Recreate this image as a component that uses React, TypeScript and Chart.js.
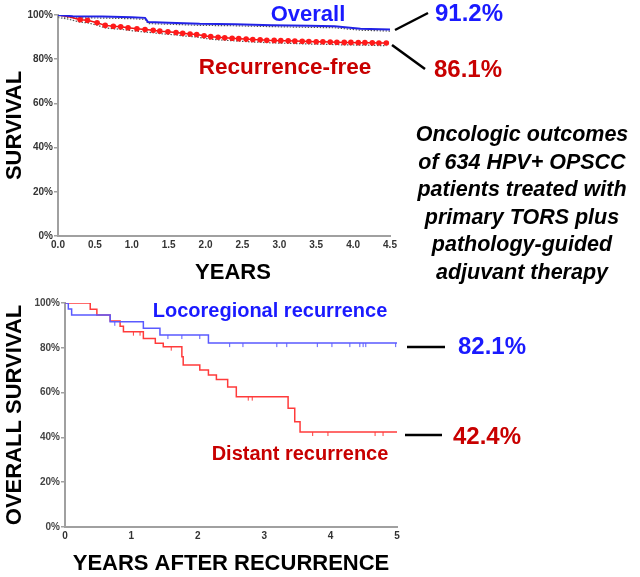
import React, { useEffect, useRef } from 'react';
import { Chart, registerables } from 'chart.js';
Chart.register(...registerables);

const FONT = 'Arial, "Liberation Sans", Helvetica, sans-serif';

// ---- Top chart data (years, survival %) ----
const topXTicks = [0, 0.5, 1, 1.5, 2, 2.5, 3, 3.5, 4, 4.5];
const overallYears = [0, 0.2, 0.6, 1.0, 1.18, 1.22, 1.5, 1.92, 2.4, 2.9, 3.4, 3.75, 4.1, 4.5];
const overallValues = [100, 99.4, 99.3, 99.0, 98.7, 96.8, 96.5, 96.0, 95.8, 95.4, 95.1, 94.9, 93.8, 93.4];
const rfYears = [0, 0.15, 0.30, 0.40, 0.53, 0.64, 0.75, 0.85, 0.95, 1.07, 1.18, 1.29, 1.38, 1.49, 1.60, 1.69, 1.79, 1.88, 1.98, 2.07, 2.17, 2.26, 2.36, 2.45, 2.55, 2.64, 2.74, 2.83, 2.93, 3.02, 3.12, 3.21, 3.31, 3.40, 3.50, 3.59, 3.69, 3.78, 3.88, 3.97, 4.07, 4.16, 4.26, 4.35, 4.45];
const rfValues = [100, 99.2, 97.9, 97.6, 96.5, 95.3, 94.9, 94.7, 94.2, 93.8, 93.4, 93.1, 92.7, 92.4, 92.1, 91.7, 91.4, 91.2, 90.6, 90.2, 89.9, 89.7, 89.5, 89.3, 89.1, 88.9, 88.8, 88.6, 88.5, 88.4, 88.3, 88.2, 88.1, 88.0, 87.9, 87.9, 87.8, 87.7, 87.6, 87.6, 87.5, 87.5, 87.4, 87.3, 87.3];

// ---- Bottom chart data ----
const locoYears = [0, 0.05, 0.1, 0.68, 1.18, 1.43, 2.16, 5.0];
const locoValues = [100, 97.3, 94.6, 91.6, 88.7, 85.7, 82.1, 82.1];
const distYears = [0, 0.38, 0.48, 0.68, 0.83, 0.88, 1.18, 1.36, 1.48, 1.76, 1.78, 2.03, 2.16, 2.28, 2.45, 2.58, 3.36, 3.46, 3.54, 5.0];
const distValues = [100, 97.2, 94.6, 92.0, 89.6, 87.2, 84.2, 82.0, 80.5, 76.0, 72.3, 70.1, 67.9, 65.9, 62.5, 58.2, 53.0, 47.0, 42.4, 42.4];
const locoCensorYears = [0.75, 1.55, 1.76, 2.03, 2.48, 2.68, 3.19, 3.34, 3.80, 4.02, 4.29, 4.44, 4.49, 4.53, 4.98];
const locoCensorValues = [91.6, 85.7, 85.7, 85.7, 82.1, 82.1, 82.1, 82.1, 82.1, 82.1, 82.1, 82.1, 82.1, 82.1, 82.1];
const distCensorYears = [1.03, 1.13, 1.6, 2.76, 2.82, 3.73, 3.96, 4.67, 4.79];
const distCensorValues = [87.2, 87.2, 80.5, 58.2, 58.2, 42.4, 42.4, 42.4, 42.4];

const pts = (xs: number[], ys: number[]) => xs.map((x, i) => ({ x, y: ys[i] }));

const shiftPlugin = {
  id: 'shiftPlugin',
  beforeDatasetDraw(chart: any, args: any) {
    const ds = chart.data.datasets[args.index];
    if (ds.yShift) { chart.ctx.save(); chart.ctx.translate(0, ds.yShift); }
  },
  afterDatasetDraw(chart: any, args: any) {
    const ds = chart.data.datasets[args.index];
    if (ds.yShift) chart.ctx.restore();
  },
};

const tickFont = { family: FONT, size: 10, weight: 'bold' as const };
const titleFont = { family: FONT, size: 22, weight: 'bold' as const };

const BLUE_TXT = '#1a1aff';
const RED_TXT = '#c80000';

const txt = (extra: any): React.CSSProperties => ({
  position: 'absolute', whiteSpace: 'nowrap', fontFamily: FONT, fontWeight: 'bold', lineHeight: 1, ...extra,
});

export default function App() {
  const topRef = useRef<HTMLCanvasElement>(null);
  const botRef = useRef<HTMLCanvasElement>(null);

  useEffect(() => {
    const top = new Chart(topRef.current!, {
      type: 'line',
      data: {
        datasets: [
          { data: pts(overallYears, overallValues), borderColor: '#2222e6', borderWidth: 2, pointRadius: 0, tension: 0 } as any,
          {
            data: pts(rfYears, rfValues), borderColor: '#ee1111', borderWidth: 1.5, backgroundColor: '#ff1a1a',
            pointRadius: (c: any) => (c.dataIndex < 2 ? 0 : 2.8), pointBorderWidth: 0, pointBackgroundColor: '#ff1a1a', tension: 0,
          } as any,
          { data: pts(overallYears, overallValues), borderColor: '#555', borderWidth: 1.2, borderDash: [1.5, 1.5], pointRadius: 0, yShift: 1.5 } as any,
          { data: pts(rfYears, rfValues), borderColor: '#555', borderWidth: 1.2, borderDash: [1.5, 1.5], pointRadius: 0, yShift: 2.5 } as any,
        ],
      },
      options: {
        responsive: false, animation: false, maintainAspectRatio: false,
        layout: { padding: { left: 0, top: 15, right: 30, bottom: 0 } },
        plugins: { legend: { display: false }, tooltip: { enabled: false } },
        scales: {
          x: {
            type: 'linear', min: 0, max: 4.5,
            afterBuildTicks: (s: any) => { s.ticks = topXTicks.map((v) => ({ value: v })); },
            ticks: { font: tickFont, color: '#333', padding: 3, callback: (v: any) => Number(v).toFixed(1), maxRotation: 0, autoSkip: false },
            grid: { display: false, drawTicks: false },
            border: { display: true, color: '#a0a0a0', width: 2 },
            afterFit: (s: any) => { s.height = 54; },
          },
          y: {
            min: 0, max: 100,
            ticks: { stepSize: 20, font: tickFont, color: '#333', padding: 1, callback: (v: any) => v + '%' },
            grid: { display: true, drawOnChartArea: false, drawTicks: true, tickLength: 4, color: '#a0a0a0', lineWidth: 1.5 },
            border: { display: true, color: '#a0a0a0', width: 2 },
            title: { display: true, text: 'SURVIVAL', font: titleFont, color: '#000', padding: { top: 2, bottom: 0 } },
            afterFit: (s: any) => { s.width = 58; },
          },
        },
      } as any,
      plugins: [shiftPlugin],
    });

    const bot = new Chart(botRef.current!, {
      type: 'line',
      data: {
        datasets: [
          { data: pts(locoYears, locoValues), stepped: true, borderColor: '#5a5aff', borderWidth: 1.5, pointRadius: 0 } as any,
          { data: pts(distYears, distValues), stepped: true, borderColor: '#ff3b3b', borderWidth: 1.5, pointRadius: 0 } as any,
          { data: pts(locoCensorYears, locoCensorValues), showLine: false, pointStyle: 'line', rotation: 90, pointRadius: 2, borderColor: '#5a5aff', borderWidth: 1, yShift: 2 } as any,
          { data: pts(distCensorYears, distCensorValues), showLine: false, pointStyle: 'line', rotation: 90, pointRadius: 2, borderColor: '#ff3b3b', borderWidth: 1, yShift: 2 } as any,
        ],
      },
      options: {
        responsive: false, animation: false, maintainAspectRatio: false,
        layout: { padding: { left: 0, top: 13, right: 23, bottom: 0 } },
        plugins: { legend: { display: false }, tooltip: { enabled: false } },
        scales: {
          x: {
            type: 'linear', min: 0, max: 5,
            ticks: { stepSize: 1, font: tickFont, color: '#333', padding: 3, maxRotation: 0 },
            grid: { display: false, drawTicks: false },
            border: { display: true, color: '#a0a0a0', width: 2 },
            title: { display: true, text: 'YEARS AFTER RECURRENCE', font: titleFont, color: '#000', padding: { top: 0, bottom: 0 } },
            afterFit: (s: any) => { s.height = 50; },
          },
          y: {
            min: 0, max: 100,
            ticks: { stepSize: 20, font: tickFont, color: '#444', padding: 1, callback: (v: any) => v + '%' },
            grid: { display: true, drawOnChartArea: false, drawTicks: true, tickLength: 4, color: '#a0a0a0', lineWidth: 1.5 },
            border: { display: true, color: '#a0a0a0', width: 2 },
            title: { display: true, text: 'OVERALL SURVIVAL', font: titleFont, color: '#000', padding: { top: 2, bottom: 0 } },
            afterFit: (s: any) => { s.width = 65; },
          },
        },
      } as any,
      plugins: [shiftPlugin],
    });

    return () => { top.destroy(); bot.destroy(); };
  }, []);

  return (
    <div style={{ position: 'fixed', left: 0, top: 0, width: 640, height: 577, background: '#fff', overflow: 'hidden' }}>
      <canvas ref={topRef} width={420} height={290} style={{ position: 'absolute', left: 0, top: 0, display: 'block' }} />
      <canvas ref={botRef} width={420} height={287} style={{ position: 'absolute', left: 0, top: 290, display: 'block' }} />
      <svg width={640} height={577} style={{ position: 'absolute', left: 0, top: 0, pointerEvents: 'none' }}>
        <line x1={395} y1={30} x2={428} y2={13} stroke="#000" strokeWidth={2.5} />
        <line x1={392} y1={45} x2={425} y2={69} stroke="#000" strokeWidth={2.5} />
        <line x1={407} y1={347} x2={445} y2={347} stroke="#000" strokeWidth={2.5} />
        <line x1={405} y1={435} x2={442} y2={435} stroke="#000" strokeWidth={2.5} />
      </svg>
      <div style={txt({ left: 308, top: 14, fontSize: 22, color: BLUE_TXT, transform: 'translate(-50%,-50%)' })}>Overall</div>
      <div style={txt({ left: 285, top: 67, fontSize: 22.5, color: RED_TXT, transform: 'translate(-50%,-50%)' })}>Recurrence-free</div>
      <div style={txt({ left: 435, top: 13, fontSize: 24, color: BLUE_TXT, transform: 'translate(0,-50%)' })}>91.2%</div>
      <div style={txt({ left: 434, top: 69, fontSize: 24, color: RED_TXT, transform: 'translate(0,-50%)' })}>86.1%</div>
      <div style={txt({ left: 233, top: 272, fontSize: 22, color: '#000', transform: 'translate(-50%,-50%)' })}>YEARS</div>
      <div style={{ position: 'absolute', left: 402, width: 240, top: 121, fontFamily: FONT, fontWeight: 'bold', fontStyle: 'italic', fontSize: 21.5, lineHeight: '27.6px', textAlign: 'center', color: '#000' }}>
        Oncologic outcomes<br />of 634 HPV+ OPSCC<br />patients treated with<br />primary TORS plus<br />pathology-guided<br />adjuvant therapy
      </div>
      <div style={txt({ left: 270, top: 310, fontSize: 20, color: BLUE_TXT, transform: 'translate(-50%,-50%)' })}>Locoregional recurrence</div>
      <div style={txt({ left: 300, top: 453, fontSize: 20, color: RED_TXT, transform: 'translate(-50%,-50%)' })}>Distant recurrence</div>
      <div style={txt({ left: 458, top: 346, fontSize: 24, color: BLUE_TXT, transform: 'translate(0,-50%)' })}>82.1%</div>
      <div style={txt({ left: 453, top: 436, fontSize: 24, color: RED_TXT, transform: 'translate(0,-50%)' })}>42.4%</div>
    </div>
  );
}
